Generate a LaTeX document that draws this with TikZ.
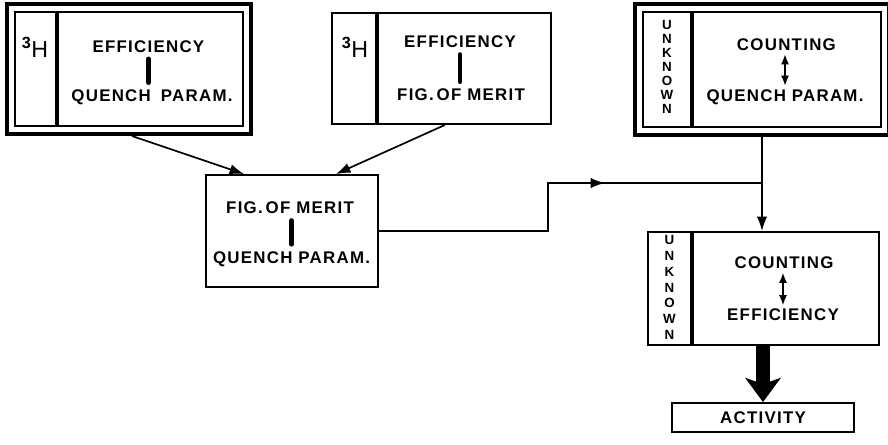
\documentclass[tikz,border=0pt]{standalone}
\usepackage{fontspec}
\usetikzlibrary{arrows.meta,fit}
\newfontfamily\lettering[LetterSpace=7.5]{Liberation Sans}
\newfontfamily\plainsans{Liberation Sans}
\tikzset{
  cell/.style={draw,line width=1.4pt,rectangle,inner sep=0pt},
  frame/.style={draw,line width=2.6pt,rectangle,inner sep=0.18cm},
  txt/.style={font=\lettering\bfseries\fontsize{12}{14}\selectfont,inner sep=0pt,text depth=0pt},
  iso/.style={font=\plainsans\fontsize{16.5}{18}\selectfont,inner sep=0pt},
  vert/.style={font=\plainsans\bfseries\fontsize{9.5}{9.9}\selectfont,align=center,inner sep=0pt},
  line/.style={line width=1.2pt},
  link/.style={line width=1.2pt,-{Latex[length=0.36cm,width=0.26cm]}},
  bar/.style={line width=3.4pt,line cap=round,shorten <=0.16cm,shorten >=0.18cm},
  both/.style={line width=1.8pt,{Latex[length=0.26cm,width=0.2cm]}-{Latex[length=0.26cm,width=0.2cm]},shorten <=0.08cm,shorten >=0.08cm},
  fat/.style={line width=0.33cm,-{Stealth[length=0.6cm,width=0.88cm,inset=0.15cm]}},
}
\begin{document}
\begin{tikzpicture}
  \useasboundingbox (0,0) rectangle (22.2,-11.1);
  % 3H: efficiency - quench parameter
  \node[cell,minimum width=1.025cm,minimum height=2.85cm] (h1) at (0.8875,-1.725) {};
  \node[cell,anchor=west,minimum width=4.625cm,minimum height=2.85cm] (q1) at (h1.east) {};
  \node[frame,fit=(h1)(q1)] (f1) {};
  \node[iso] (i1) at (0.875,-1.19) {\textsuperscript{\bfseries 3}H};
  \node[txt] (e1) at (3.71,-1.16) {EFFICIENCY};
  \node[txt] (p1) at (3.8,-2.4) {QUENCH\hspace{0.6em}PARAM.};
  \draw[bar] (e1.south) -- (e1.south |- p1.north);
  % 3H: efficiency - figure of merit
  \node[cell,minimum width=1.1cm,minimum height=2.775cm] (h2) at (8.85,-1.7125) {};
  \node[cell,anchor=west,minimum width=4.325cm,minimum height=2.775cm] (q2) at (h2.east) {};
  \node[iso] (i2) at (8.875,-1.19) {\textsuperscript{\bfseries 3}H};
  \node[txt] (e2) at (11.5,-1.05) {EFFICIENCY};
  \node[txt] (m2) at (11.525,-2.375) {FIG.\,OF MERIT};
  \draw[bar] (e2.south) -- (e2.south |- m2.north);
  % unknown: counting - quench parameter
  \node[cell,minimum width=1.2cm,minimum height=2.875cm] (h3) at (16.675,-1.7375) {};
  \node[cell,anchor=west,minimum width=4.7cm,minimum height=2.875cm] (q3) at (h3.east) {};
  \node[frame,fit=(h3)(q3)] (f3) {};
  \node[vert] (u3) at (16.675,-1.675) {U\\N\\K\\N\\O\\W\\N};
  \node[txt] (c3) at (19.66,-1.1125) {COUNTING};
  \node[txt] (p3) at (19.625,-2.3875) {QUENCH PARAM.};
  \draw[both] (c3.south -| p3) -- (p3.north);
  % figure of merit - quench parameter
  \node[cell,minimum width=4.3cm,minimum height=2.8cm] (fm) at (7.3,-5.775) {};
  \node[txt] (m5) at (7.25,-5.2) {FIG.\,OF MERIT};
  \node[txt] (p5) at (7.29,-6.44) {QUENCH PARAM.};
  \draw[bar] (m5.south -| p5) -- (p5.north);
  % unknown: counting - efficiency
  \node[cell,minimum width=1.075cm,minimum height=2.825cm] (h4) at (16.7375,-7.2125) {};
  \node[cell,anchor=west,minimum width=4.65cm,minimum height=2.825cm] (q4) at (h4.east) {};
  \node[vert,font=\plainsans\bfseries\fontsize{9.5}{11.2}\selectfont] (u4) at (16.7375,-7.19) {U\\N\\K\\N\\O\\W\\N};
  \node[txt] (c4) at (19.6,-6.575) {COUNTING};
  \node[txt] (e4) at (19.575,-7.875) {EFFICIENCY};
  \draw[both] (c4.south -| e4) -- (e4.north);
  \node[cell,txt,draw,line width=1.4pt,minimum width=4.55cm,minimum height=0.725cm] (act) at (19.075,-10.4375) {ACTIVITY};
  % connectors
  \draw[link] ([xshift=0.075cm]f1.south) -- ([xshift=0.975cm]fm.north west);
  \draw[link] ([xshift=-0.49cm]q2.south) -- ([xshift=-1.075cm]fm.north east);
  \coordinate (bend) at (13.7,-4.575);
  \coordinate (mid) at (15.125,-4.575);
  \coordinate (join) at (f3.south |- mid);
  \draw[link] (fm.east) -| (bend) -- (mid);
  \draw[line] ([xshift=-0.15cm]mid) -- (join);
  \draw[link] (f3.south) -- (f3.south |- q4.north);
  \draw[fat] (act.north |- q4.south) -- (act.north);
\end{tikzpicture}
\end{document}
